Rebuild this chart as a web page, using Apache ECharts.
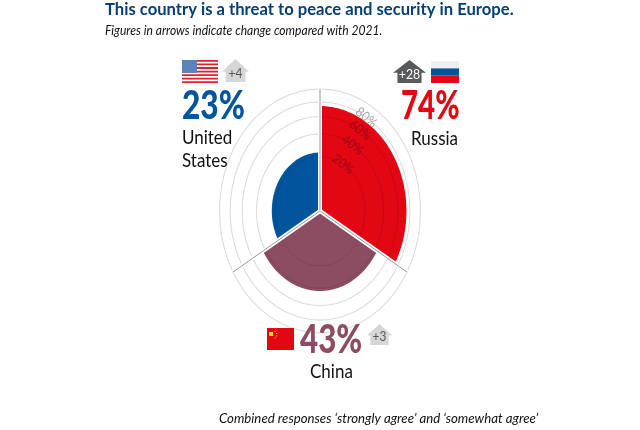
<!DOCTYPE html>
<html><head><meta charset="utf-8">
<style>html,body{margin:0;padding:0;background:#fff}#c{width:640px;height:430px}</style>
<script src="https://cdn.jsdelivr.net/npm/echarts@6/dist/echarts.min.js"></script>
</head><body><div id="c"></div>
<script>
const categories = ['Russia', 'China', 'United States'];
const values = [74, 43, 23];
const changes = ['+28', '+3', '+4'];
const sectorColors = ['#e30613', '#8c4d63', '#00559c'];
const ringLevels = [20, 40, 60, 80, 100];
const tickLabels = ['20%', '40%', '60%', '80%'];
const tickLevels = [20, 40, 60, 80];
const titleText = 'This country is a threat to peace and security in Europe.';
const subtitleText = 'Figures in arrows indicate change compared with 2021.';
const footerText = "Combined responses \u2018strongly agree\u2019 and \u2018somewhat agree\u2019";

const F = 'Lato, "Open Sans", sans-serif';
const DEG = Math.PI / 180;
const rad = v => Math.sqrt(v / 100);            // area scale
const arcPts = (api, v, a0, a1) => {
  const pts = [], r = rad(v), n = 60;
  for (let i = 0; i <= n; i++) {
    const a = (a0 + (a1 - a0) * i / n) * DEG;
    pts.push(api.coord([r * Math.sin(a), r * Math.cos(a)]));
  }
  return pts;
};
const sectorSpan = i => [i * 120, (i + 1) * 120];

function renderRings(params, api) {
  const v = api.value(0);
  return { type: 'polyline', shape: { points: arcPts(api, v, 0, 360) },
    style: { fill: 'none', stroke: '#dcdcdc', lineWidth: 1.1 }, silent: true };
}
function renderSectors(params, api) {
  const i = params.dataIndex, v = api.value(0), [a0, a1] = sectorSpan(i);
  const c = api.coord([0, 0]);
  const children = [{ type: 'polygon', shape: { points: [c].concat(arcPts(api, v, a0, a1)) },
    style: { fill: sectorColors[i] } }];
  ringLevels.filter(l => l < v).forEach(l => children.push({ type: 'polyline',
    shape: { points: arcPts(api, l, a0, a1) },
    style: { fill: 'none', stroke: 'rgba(0,0,0,0.1)', lineWidth: 1 } }));
  return { type: 'group', children };
}
function renderSeparators(params, api) {
  const a = params.dataIndex * 120 * DEG;
  const p0 = api.coord([0, 0]), p1 = api.coord([Math.sin(a), Math.cos(a)]);
  return { type: 'group', children: [
    { type: 'line', shape: { x1: p0[0], y1: p0[1], x2: p1[0], y2: p1[1] }, style: { stroke: '#fff', lineWidth: 4 } },
    { type: 'line', shape: { x1: p0[0], y1: p0[1], x2: p1[0], y2: p1[1] }, style: { stroke: '#9a9a9a', lineWidth: 1 } }
  ] };
}
function renderTicks(params, api) {
  const v = api.value(0), a = 31 * DEG, r = rad(v);
  const p = api.coord([r * Math.sin(a), r * Math.cos(a)]);
  return { type: 'text', x: p[0], y: p[1], rotation: -38 * DEG, scaleY: 1.1,
    style: { text: tickLabels[params.dataIndex], font: '12px ' + F, textAlign: 'center', textVerticalAlign: 'middle',
      fill: v < 80 ? 'rgba(120,10,20,0.7)' : '#a8a8a8' } };
}

function txt(text, x, y, size, fill, o) {
  o = o || {};
  return { type: 'text', x, y, scaleX: o.sx || 1, scaleY: o.sy || 1, z: 10,
    style: { text, fill, font: (o.w || '') + ' ' + size + 'px ' + F, textAlign: o.align || 'left', textVerticalAlign: 'middle' } };
}
function rect(x, y, w, h, fill) { return { type: 'rect', shape: { x, y, width: w, height: h }, style: { fill }, z: 10 }; }
function house(x, y, w, h, fill) {
  const ins = w * 0.135, head = h * 0.55;
  return { type: 'polygon', z: 10, style: { fill }, shape: { points: [
    [x + w / 2, y], [x + w, y + head], [x + w - ins, y + head], [x + w - ins, y + h],
    [x + ins, y + h], [x + ins, y + head], [x, y + head]] } };
}
const usFlag = (() => {
  const out = [rect(182, 60, 36, 23, '#fff')];
  for (let i = 0; i < 7; i++) out.push(rect(182, 60 + i * 3.55, 36, 1.8, '#e1212f'));
  out.push(rect(182, 60, 15, 13, '#5a83b8'));
  return out;
})();
const ruFlag = [rect(431, 61, 28, 7.4, '#efefef'), rect(431, 68.4, 28, 7.3, '#00559c'), rect(431, 75.7, 28, 7.3, '#e30613')];
const cnFlag = [rect(267, 328, 27, 22, '#e30613'), rect(269, 332, 4, 4, '#f8d520'),
  rect(274.5, 331, 1, 1, '#f8d520'), rect(276, 333, 1, 1, '#f8d520'), rect(276, 335.5, 1, 1, '#f8d520'), rect(274.5, 337.5, 1, 1, '#f8d520')];

const graphic = [
  txt(titleText, 105, 9.5, 17.5, '#063f75', { w: 'bold', sx: 0.95 }),
  txt(subtitleText, 105, 31, 13.5, '#111', { w: 'italic', sx: 0.895 }),
  txt(footerText, 219, 419, 13.5, '#111', { w: 'italic', sx: 0.98 }),
  ...usFlag, ...ruFlag, ...cnFlag,
  house(222, 59, 27, 23, '#d6d6d6'), txt(changes[2], 235.5, 74, 12.5, '#555', { align: 'center', sx: 0.95 }),
  house(393, 60, 33, 23, '#58595b'), txt(changes[0], 409.5, 75, 13, '#fff', { align: 'center', sx: 0.95 }),
  house(367, 324, 25, 21, '#d6d6d6'), txt(changes[1], 379.5, 337, 12.5, '#555', { align: 'center', sx: 0.95 }),
  txt(values[2] + '%', 182, 106, 36, sectorColors[2], { w: '900', sx: 0.88, sy: 1.1 }),
  txt(values[0] + '%', 401, 106, 36, sectorColors[0], { w: '900', sx: 0.82, sy: 1.1 }),
  txt(values[1] + '%', 300, 340, 36, sectorColors[1], { w: '900', sx: 0.87, sy: 1.1 }),
  txt('United', 182, 138, 17, '#111', { sy: 1.1 }),
  txt('States', 182, 161, 17, '#111', { sy: 1.1 }),
  txt(categories[0], 411, 139, 17, '#111', { sy: 1.1 }),
  txt(categories[1], 310, 372, 17, '#111', { sy: 1.1 })
];

const axis = { type: 'value', min: -1, max: 1, show: false };
const chart = echarts.init(document.getElementById('c'));
chart.setOption({
  animation: false,
  grid: { left: 219.5, width: 201, top: 89, height: 244 },
  xAxis: axis, yAxis: axis,
  graphic,
  series: [
    { type: 'custom', z: 1, coordinateSystem: 'cartesian2d', renderItem: renderRings, data: ringLevels.map(v => [v]), encode: { x: 0, y: 0 }, clip: false },
    { type: 'custom', z: 2, coordinateSystem: 'cartesian2d', renderItem: renderSectors, data: values.map(v => [v]), encode: { x: 0, y: 0 }, clip: false },
    { type: 'custom', z: 3, coordinateSystem: 'cartesian2d', renderItem: renderSeparators, data: values.map(v => [v]), encode: { x: 0, y: 0 }, clip: false },
    { type: 'custom', z: 4, coordinateSystem: 'cartesian2d', renderItem: renderTicks, data: tickLevels.map(v => [v]), encode: { x: 0, y: 0 }, clip: false }
  ]
});
</script></body></html>
